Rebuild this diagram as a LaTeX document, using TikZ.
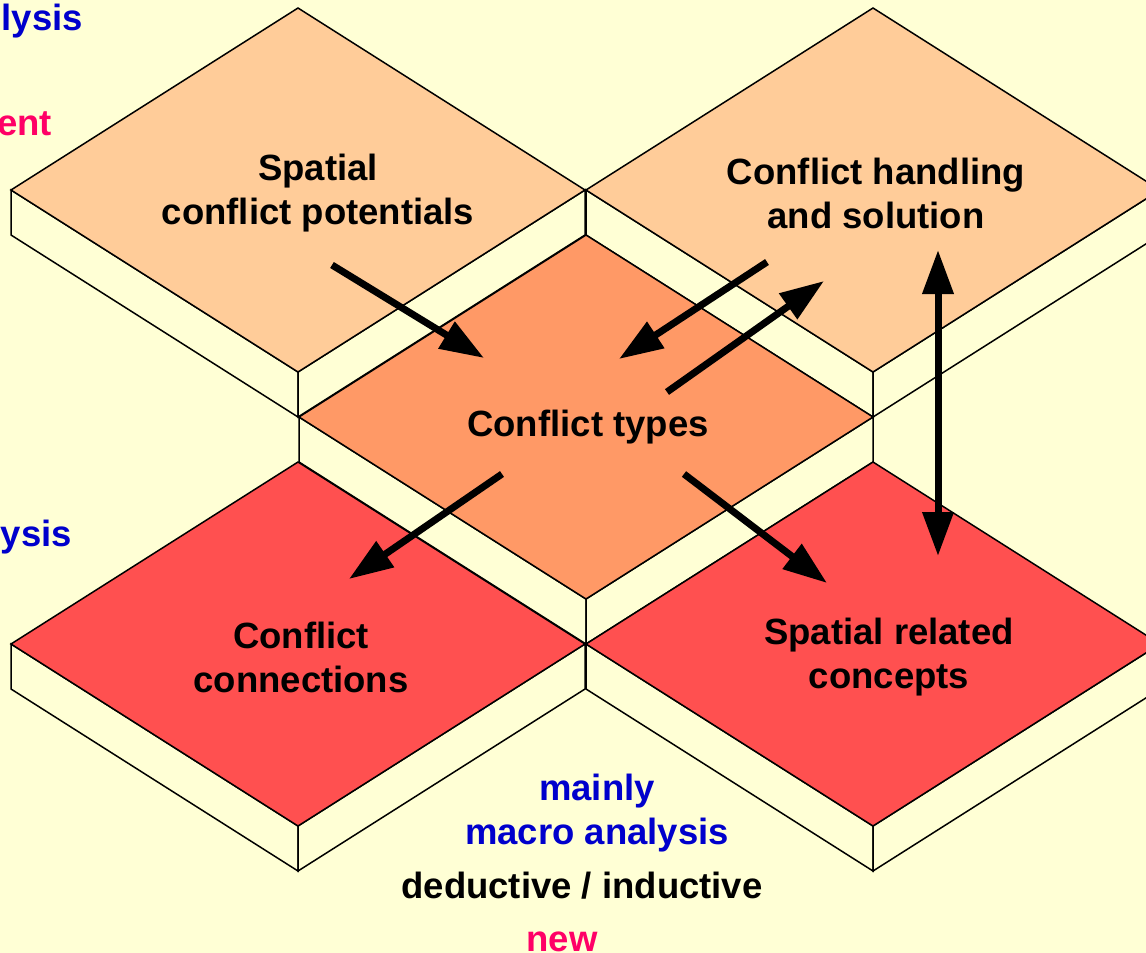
\documentclass[tikz,border=0pt]{standalone}
\usepackage{fontspec}
\setmainfont{Liberation Sans}
\usetikzlibrary{arrows.meta}
\definecolor{bg}{HTML}{FFFFD5}
\definecolor{lightor}{HTML}{FFCC99}
\definecolor{midor}{HTML}{FF9966}
\definecolor{redtop}{HTML}{FF5050}
\definecolor{blu}{HTML}{0000CC}
\definecolor{pnk}{HTML}{FF0066}
\newcommand\myslab[3]{%
  \filldraw[slabline,fill=bg] (#1-287,#2) -- (#1,#2+182) -- (#1,#2+227) -- (#1-287,#2+45) -- cycle;
  \filldraw[slabline,fill=bg] (#1,#2+182) -- (#1+287,#2) -- (#1+287,#2+45) -- (#1,#2+227) -- cycle;
  \filldraw[slabline,fill=#3] (#1-287,#2) -- (#1,#2-182) -- (#1+287,#2) -- (#1,#2+182) -- cycle;
}
\tikzset{
  slabline/.style={draw=black,line width=1.5pt,line join=miter},
  lbl/.style={font=\fontsize{36.5}{44}\selectfont\bfseries,align=center,inner sep=0pt},
  bigarrow/.style={line width=7pt,-{Triangle[length=44pt,width=30pt]}},
  dblarrow/.style={line width=7pt,{Triangle[length=44pt,width=30pt]}-{Triangle[length=44pt,width=30pt]}},
}
\begin{document}
\begin{tikzpicture}[x=1pt,y=-1pt]
\fill[bg] (0,0) rectangle (1146,953);
\useasboundingbox (0,0) rectangle (1146,953);
\begin{scope}
\clip (0,0) rectangle (1146,953);
\myslab{298}{190}{lightor}
\myslab{873}{190}{lightor}
\myslab{586}{417}{midor}
\myslab{298}{644}{redtop}
\myslab{873}{644}{redtop}
\end{scope}
% texts
\node[lbl] (pot) at (318,193) {Spatial\\conflict potentials};
\node[lbl] (hand) at (876,193) {Conflict handling\\and solution};
\node[lbl] (types) at (588,427) {Conflict types};
\node[lbl] (conn) at (301,657) {Conflict\\connections};
\node[lbl] (rel) at (889,657) {Spatial related\\concepts};
\node[lbl,text=blu] (macro) at (597,813) {mainly\\macro analysis};
\node[lbl,anchor=base] (ded) at (582,898) {deductive / inductive};
\node[lbl,anchor=base,text=pnk] (new) at (562,951) {new};
\node[lbl,anchor=base east,text=blu] (t1) at (83,30) {lysis};
\node[lbl,anchor=base east,text=pnk] (t2) at (52,135) {ent};
\node[lbl,anchor=base east,text=blu] (t3) at (72,546) {ysis};
% arrow end points
\coordinate (a1s) at (332,265); \coordinate (a1e) at (484,358);
\coordinate (a2s) at (767,262); \coordinate (a2e) at (619,359);
\coordinate (a3s) at (667,392); \coordinate (a3e) at (824,281);
\coordinate (a4s) at (938,250); \coordinate (a4e) at (938,556);
\coordinate (a5s) at (502,474); \coordinate (a5e) at (349,579);
\coordinate (a6s) at (684,474); \coordinate (a6e) at (827,583);
\draw[bigarrow] (a1s) -- (a1e);
\draw[bigarrow] (a2s) -- (a2e);
\draw[bigarrow] (a3s) -- (a3e);
\draw[dblarrow] (a4s) -- (a4e);
\draw[bigarrow] (a5s) -- (a5e);
\draw[bigarrow] (a6s) -- (a6e);
\end{tikzpicture}
\end{document}
